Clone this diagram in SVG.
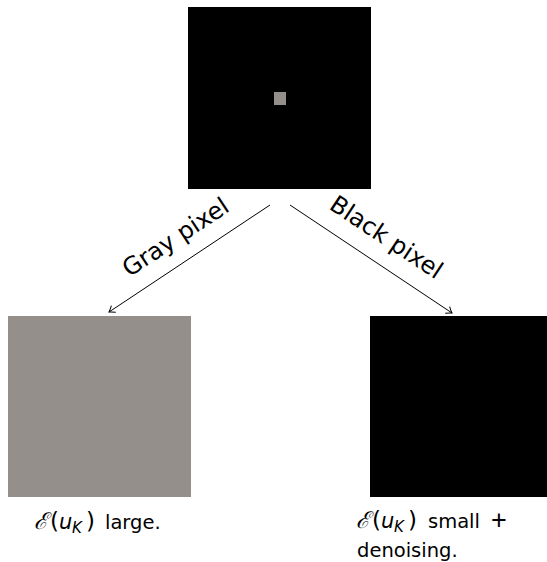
<svg xmlns="http://www.w3.org/2000/svg" width="547" height="562" viewBox="0 0 547 562">
  <style>
    .label { font-family: "DejaVu Sans", "Liberation Sans", sans-serif; font-size: 24px; fill: #000; }
    .caption { font-family: "DejaVu Sans", "Liberation Sans", sans-serif; font-size: 19.5px; fill: #000; }
    .script { font-family: "DejaVu Serif", "Liberation Serif", serif; font-style: italic; font-size: 23px; }
    .paren { font-family: "DejaVu Sans", "Liberation Sans", sans-serif; font-size: 23px; }
    .math { font-family: "DejaVu Sans", "Liberation Sans", sans-serif; font-style: italic; font-size: 21px; }
    .sub { font-family: "DejaVu Sans", "Liberation Sans", sans-serif; font-style: italic; font-size: 15px; }
    .plus { font-family: "Liberation Sans", "DejaVu Sans", sans-serif; font-size: 27px; }
    .conn { stroke: #000; stroke-width: 1; fill: none; }
  </style>
  <defs>
    <marker id="arrow" viewBox="-6 -5 8 10" refX="0" refY="0" markerWidth="8" markerHeight="10" markerUnits="userSpaceOnUse" orient="auto">
      <path d="M -5.5 -4 Q -2 -1 0 0 Q -2 1 -5.5 4" fill="none" stroke="#000" stroke-width="1"/>
    </marker>
  </defs>

  <rect width="547" height="562" fill="#fff"/>

  <!-- source image: black field with one gray pixel -->
  <g id="source">
    <rect x="188" y="7" width="183" height="182" fill="#000"/>
    <rect x="274" y="92" width="12" height="13" fill="#958f8b"/>
  </g>

  <!-- result when the gray pixel is chosen -->
  <g id="gray-result">
    <rect x="8" y="316" width="183" height="181" fill="#958f8b"/>
    <text class="caption" y="529"><tspan class="script" x="34">ℰ</tspan><tspan class="paren" x="50">(</tspan><tspan class="math" x="59">u</tspan><tspan class="sub" x="72" dy="4">K</tspan><tspan class="paren" x="86" dy="-4">)</tspan><tspan x="105">large.</tspan></text>
  </g>

  <!-- result when a black pixel is chosen -->
  <g id="black-result">
    <rect x="370" y="316" width="183" height="181" fill="#000"/>
    <text class="caption" y="528"><tspan class="script" x="356">ℰ</tspan><tspan class="paren" x="372">(</tspan><tspan class="math" x="381">u</tspan><tspan class="sub" x="394" dy="4">K</tspan><tspan class="paren" x="408" dy="-4">)</tspan><tspan x="428">small</tspan><tspan class="plus" x="491" dy="1">+</tspan></text>
    <text class="caption" x="357" y="557">denoising.</text>
  </g>

  <g id="connectors">
    <line class="conn" x1="270" y1="205" x2="109" y2="312" marker-end="url(#arrow)"/>
    <line class="conn" x1="290" y1="205" x2="452" y2="313" marker-end="url(#arrow)"/>
    <text class="label" text-anchor="middle" transform="translate(180,244) rotate(-33.5)">Gray pixel</text>
    <text class="label" text-anchor="middle" transform="translate(382,244) rotate(33.5)">Black pixel</text>
  </g>
</svg>
